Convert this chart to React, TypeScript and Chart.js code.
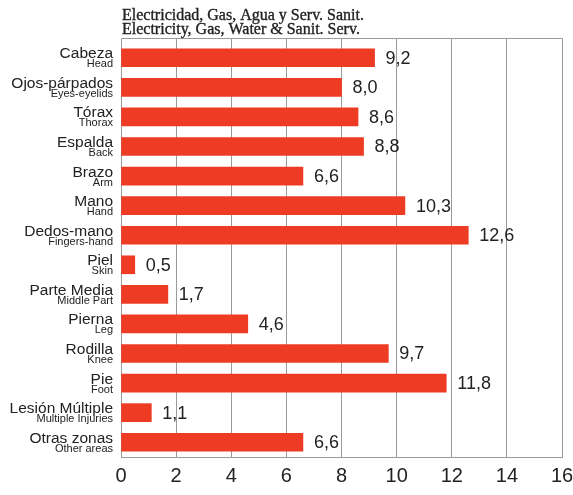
import React, { useEffect, useRef } from "react";
import { Chart, registerables } from "chart.js";

Chart.register(...registerables);

const titleLines = ["Electricidad, Gas, Agua y Serv. Sanit.", "Electricity, Gas, Water & Sanit. Serv."];
const categoriesEs = [
  "Cabeza", "Ojos-párpados", "Tórax", "Espalda", "Brazo", "Mano", "Dedos-mano",
  "Piel", "Parte Media", "Pierna", "Rodilla", "Pie", "Lesión Múltiple", "Otras zonas",
];
const categoriesEn = [
  "Head", "Eyes-eyelids", "Thorax", "Back", "Arm", "Hand", "Fingers-hand",
  "Skin", "Middle Part", "Leg", "Knee", "Foot", "Multiple Injuries", "Other areas",
];
const values = [9.2, 8.0, 8.6, 8.8, 6.6, 10.3, 12.6, 0.5, 1.7, 4.6, 9.7, 11.8, 1.1, 6.6];
const xMin = 0;
const xMax = 16;
const xStep = 2;

const BAR = "#EE3B24";
const GRID = "#9a9a9a";
const TEXT = "#222222";
const SANS = "'Liberation Sans', Arial, sans-serif";
const SERIF = "'Liberation Serif', 'Times New Roman', serif";

const fmt = (v: number) => v.toFixed(1).replace(".", ",");
const align = (p: number) => Math.round(p - 0.5) + 0.5;

const decorPlugin = {
  id: "decor",
  beforeDatasetsDraw(chart: any) {
    const { ctx, chartArea } = chart;
    const x = chart.scales.x;
    const ext = 5;
    ctx.save();
    ctx.strokeStyle = GRID;
    ctx.lineWidth = 1;
    ctx.beginPath();
    const topY = align(chartArea.top - ext);
    for (let v = xMin; v <= xMax; v += xStep) {
      const px = align(x.getPixelForValue(v));
      ctx.moveTo(px, topY);
      ctx.lineTo(px, chartArea.top + 1);
    }
    ctx.moveTo(align(chartArea.left), topY);
    ctx.lineTo(align(chartArea.right), topY);
    ctx.stroke();

    // title
    ctx.fillStyle = TEXT;
    ctx.strokeStyle = TEXT;
    ctx.lineWidth = 0.35;
    ctx.font = `16px ${SERIF}`;
    ctx.textAlign = "left";
    ctx.textBaseline = "alphabetic";
    ctx.fillText(titleLines[0], chartArea.left + 1, 20);
    ctx.strokeText(titleLines[0], chartArea.left + 1, 20);
    ctx.fillText(titleLines[1], chartArea.left + 1, 33.5);
    ctx.strokeText(titleLines[1], chartArea.left + 1, 33.5);

    // category labels
    const y = chart.scales.y;
    ctx.textAlign = "right";
    categoriesEs.forEach((es, i) => {
      const py = y.getPixelForValue(i);
      ctx.font = `15.5px ${SANS}`;
      ctx.fillText(es, chartArea.left - 8, py + 0.5);
      ctx.font = `11px ${SANS}`;
      ctx.fillText(categoriesEn[i], chartArea.left - 8, py + 9.5);
    });
    ctx.restore();
  },
  afterDatasetsDraw(chart: any) {
    const { ctx } = chart;
    const meta = chart.getDatasetMeta(0);
    ctx.save();
    ctx.fillStyle = TEXT;
    ctx.font = `18px ${SANS}`;
    ctx.textAlign = "left";
    ctx.textBaseline = "middle";
    meta.data.forEach((bar: any, i: number) => {
      ctx.fillText(fmt(values[i]), bar.x + 11, bar.y + 1);
    });
    ctx.restore();
  },
};

export default function App() {
  const ref = useRef<HTMLCanvasElement>(null);
  useEffect(() => {
    if (!ref.current) return;
    const chart = new Chart(ref.current, {
      type: "bar",
      data: {
        labels: categoriesEs,
        datasets: [
          {
            data: values,
            backgroundColor: BAR,
            borderWidth: 0,
            barThickness: 18,
          },
        ],
      },
      options: {
        indexAxis: "y",
        responsive: false,
        animation: false,
        layout: { padding: { left: 121, right: 11, top: 43, bottom: 0 } },
        plugins: {
          legend: { display: false },
          tooltip: { enabled: false },
          title: { display: false },
        },
        scales: {
          x: {
            type: "linear",
            min: xMin,
            max: xMax,
            ticks: {
              stepSize: xStep,
              color: TEXT,
              font: { family: SANS, size: 20, lineHeight: 1 },
              padding: 9,
              maxRotation: 0,
            },
            grid: { color: GRID, lineWidth: 1, drawTicks: false },
            border: { display: true, color: GRID, width: 1 },
            afterFit(scale: any) {
              scale.paddingLeft = 0;
              scale.paddingRight = 0;
            },
          },
          y: {
            type: "category",
            display: false,
            offset: true,
            grid: { display: false },
          },
        },
      },
      plugins: [decorPlugin],
    });
    return () => chart.destroy();
  }, []);
  return (
    <div style={{ position: "fixed", left: 0, top: 0, width: 573, height: 495, background: "#fff" }}>
      <canvas ref={ref} width={573} height={495} style={{ display: "block" }} />
    </div>
  );
}
